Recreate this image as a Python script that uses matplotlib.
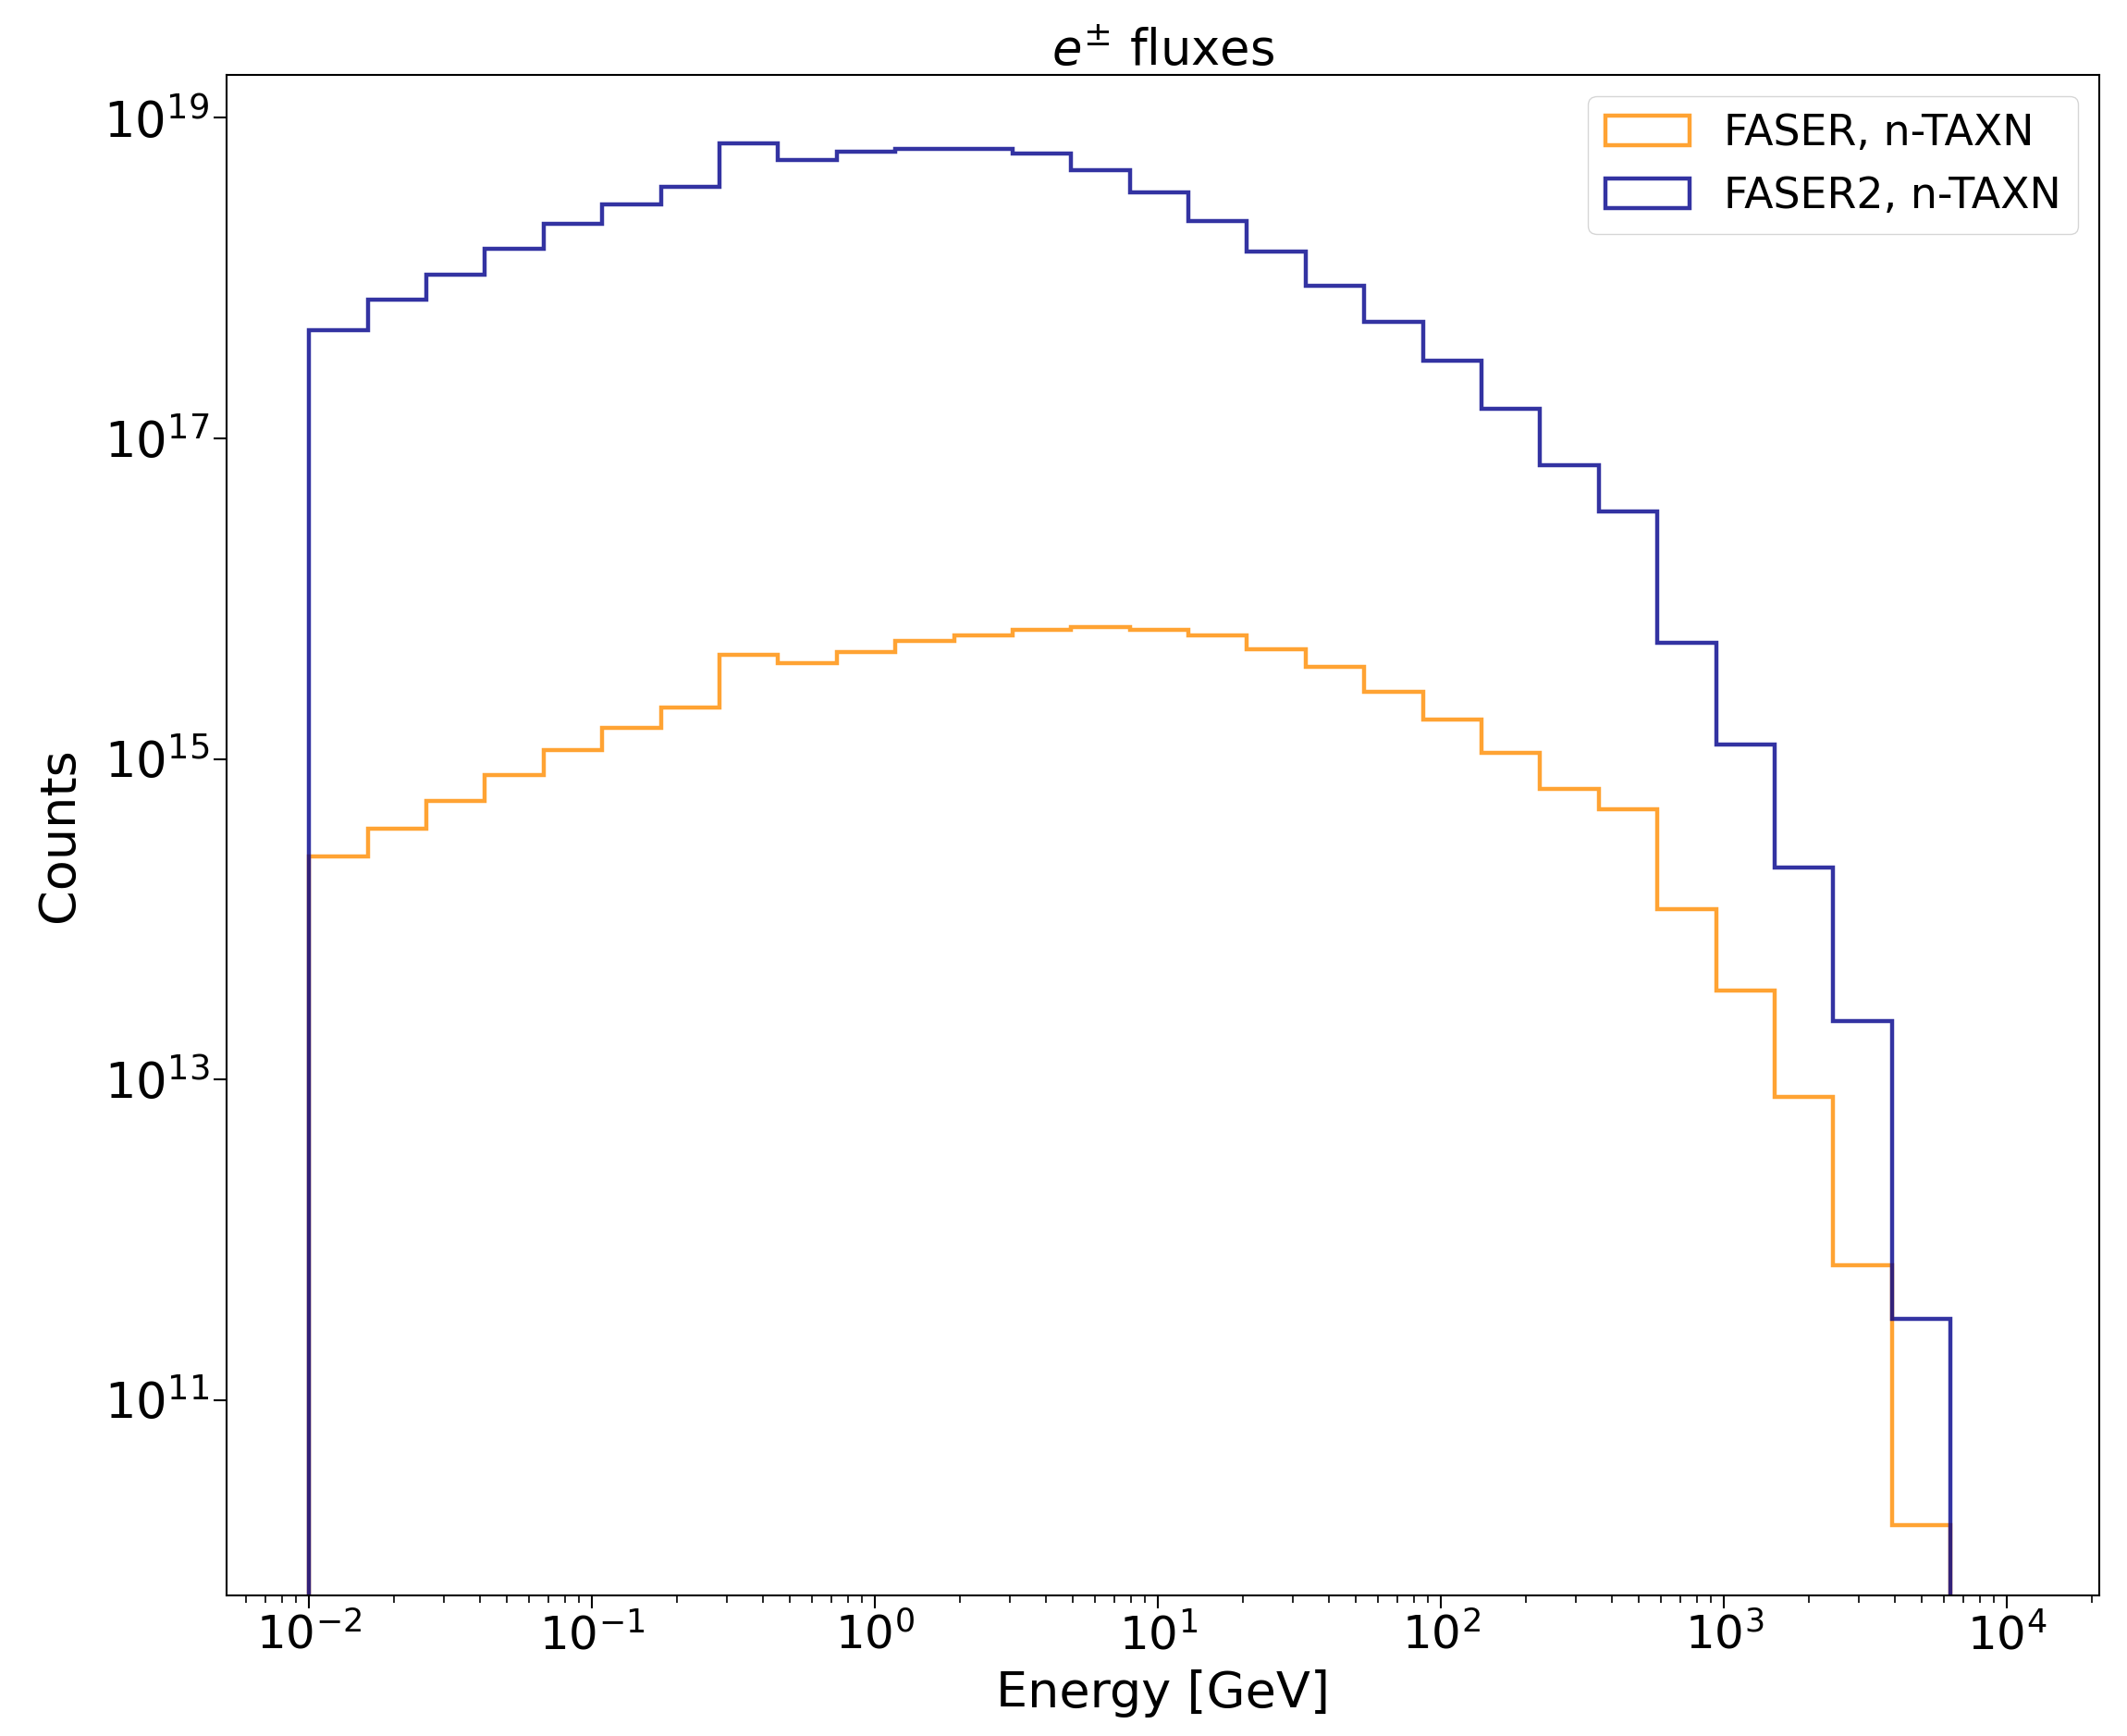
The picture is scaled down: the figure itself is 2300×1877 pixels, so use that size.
import numpy as np
import matplotlib
matplotlib.use("Agg")
import matplotlib.pyplot as plt
from matplotlib.ticker import NullLocator

# Energy bin edges [GeV]: 28 log-spaced bins from 1e-2 to ~6.3e3 GeV
bin_edges = np.logspace(-2, 3.8, 29)

# log10(counts) per bin
faser_log = [14.392, 14.565, 14.738, 14.900, 15.056, 15.195, 15.318, 15.647, 15.599, 15.665,
             15.735, 15.772, 15.805, 15.824, 15.805, 15.772, 15.682, 15.576, 15.420, 15.245,
             15.036, 14.813, 14.686, 14.061, 13.557, 12.892, 11.840, 10.217]
faser2_log = [17.674, 17.866, 18.024, 18.182, 18.340, 18.459, 18.569, 18.844, 18.740, 18.792,
              18.809, 18.809, 18.777, 18.673, 18.534, 18.359, 18.165, 17.954, 17.729, 17.485,
              17.187, 16.835, 16.544, 15.722, 15.092, 14.322, 13.364, 11.505]

labels = ["FASER, n-TAXN", "FASER2, n-TAXN"]

centers = np.sqrt(bin_edges[:-1] * bin_edges[1:])
faser = 10 ** np.array(faser_log)
faser2 = 10 ** np.array(faser2_log)

fig = plt.figure(figsize=(23, 18.77), dpi=100)
ax = fig.add_axes([0.1065, 0.081, 0.8805, 0.876])

ax.hist(centers, bins=bin_edges, weights=faser, histtype='step', log=True,
        color='darkorange', alpha=0.8, linewidth=3.2, label=labels[0])
ax.hist(centers, bins=bin_edges, weights=faser2, histtype='step', log=True,
        color='darkblue', alpha=0.8, linewidth=3.2, label=labels[1])

ax.set_xscale('log')
ax.set_xlim(10 ** -2.292, 10 ** 4.326)
ax.set_ylim(10 ** 9.78, 10 ** 19.27)
ax.set_yticks([1e11, 1e13, 1e15, 1e17, 1e19])
ax.yaxis.set_minor_locator(NullLocator())

ax.tick_params(axis='both', which='major', labelsize=36, length=10, width=1.5)
ax.tick_params(axis='y', which='major', labelsize=38)
ax.tick_params(axis='x', which='minor', length=6, width=1.2)
for s in ax.spines.values():
    s.set_linewidth(1.5)

ax.set_title(r"$e^{\pm}$ fluxes", fontsize=38, pad=8)
ax.set_xlabel("Energy [GeV]", fontsize=39, labelpad=8)
ax.set_ylabel("Counts", fontsize=39, labelpad=16)
ax.legend(loc='upper right', fontsize=33, handlelength=2.0)

fig.savefig("out.png", dpi=100)
